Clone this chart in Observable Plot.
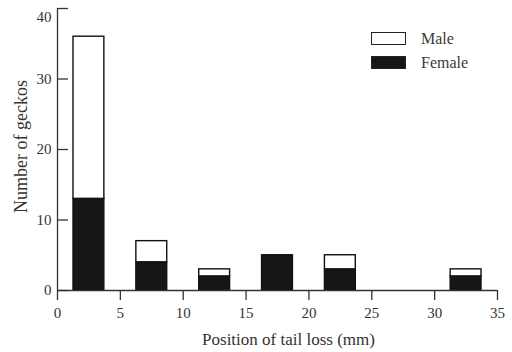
<!DOCTYPE html>
<html>
<head>
<meta charset="utf-8">
<script src="https://cdn.jsdelivr.net/npm/d3@7"></script>
<script src="https://cdn.jsdelivr.net/npm/@observablehq/plot@0.6"></script>
<style>
  html, body { margin: 0; padding: 0; background: #fff; }
  #wrap { position: relative; width: 512px; height: 352px; font-family: "Liberation Serif", serif; color: #3a3a3a; }
  .leg { position: absolute; font-size: 16px; line-height: 1; }
  .box { position: absolute; width: 33px; height: 11px; border: 1.3px solid #222; }
  svg text { font-family: "Liberation Serif", serif; }
</style>
</head>
<body>
<div id="wrap"></div>
<script>
// Data
const binStarts = [0, 5, 10, 15, 20, 30];
const binWidth = 5;
const female = [13, 4, 2, 5, 3, 2];
const male = [23, 3, 1, 0, 2, 1];
const sexes = ["Female", "Male"];
const sexColors = ["#161616", "#ffffff"];
const xTicks = [0, 5, 10, 15, 20, 25, 30, 35];
const yTicks = [0, 10, 20, 30, 40];
const xLabel = "Position of tail loss (mm)";
const yLabel = "Number of geckos";

const rows = [];
binStarts.forEach((b, i) => {
  rows.push({x1: b, x2: b + binWidth, sex: "Female", count: female[i]});
  rows.push({x1: b, x2: b + binWidth, sex: "Male", count: male[i]});
});

const ink = "#333";
const chart = Plot.plot({
  width: 512,
  height: 352,
  marginLeft: 57,
  marginRight: 15,
  marginTop: 8,
  marginBottom: 62,
  style: {fontFamily: "'Liberation Serif', serif", fontSize: "15px", color: ink, background: "#fff"},
  x: {domain: [0, 35]},
  y: {domain: [0, 40]},
  color: {domain: sexes, range: sexColors},
  marks: [
    Plot.rectY(rows, {
      x1: "x1", x2: "x2", y: "count", fill: "sex",
      order: sexes, stroke: "#111", strokeWidth: 1.4,
      insetLeft: 16, insetRight: 16
    }),
    // axis lines
    Plot.ruleX([0], {y1: 0, y2: 40, stroke: ink, strokeWidth: 1.3}),
    Plot.ruleY([0], {x1: 0, x2: 35, stroke: ink, strokeWidth: 1.3}),
    // inward y ticks (zero-length rules extended by a negative inset)
    Plot.ruleY(yTicks, {x1: 0, x2: 0, insetRight: -11, stroke: ink, strokeWidth: 1.3}),
    Plot.axisY(yTicks.filter(t => t < 40), {tickSize: 0, tickPadding: 6, label: null, fontSize: 15}),
    Plot.axisY(yTicks.filter(t => t === 40), {tickSize: 0, tickPadding: 6, label: null, fontSize: 15, dy: 9}),
    // x axis, outward ticks
    Plot.axisX(xTicks, {tickSize: 10, tickPadding: 7, label: null, stroke: ink, strokeWidth: 1.3, fontSize: 15}),
    Plot.text([yLabel], {frameAnchor: "left", textAnchor: "middle", lineAnchor: "middle", dx: -36, dy: -3, rotate: -90, fontSize: 18, fill: ink}),
    Plot.text([xLabel], {frameAnchor: "bottom", textAnchor: "middle", lineAnchor: "middle", dx: 11, dy: 49, fontSize: 17, fill: ink})
  ]
});

const wrap = document.getElementById("wrap");
wrap.appendChild(chart);

// Legend
const legendItems = [
  {label: "Male", color: sexColors[1], top: 32},
  {label: "Female", color: sexColors[0], top: 56}
];
legendItems.forEach(it => {
  const b = document.createElement("div");
  b.className = "box";
  b.style.left = "371px";
  b.style.top = it.top + "px";
  b.style.background = it.color;
  wrap.appendChild(b);
  const t = document.createElement("div");
  t.className = "leg";
  t.style.left = "421px";
  t.style.top = (it.top - 1) + "px";
  t.textContent = it.label;
  wrap.appendChild(t);
});
</script>
</body>
</html>
